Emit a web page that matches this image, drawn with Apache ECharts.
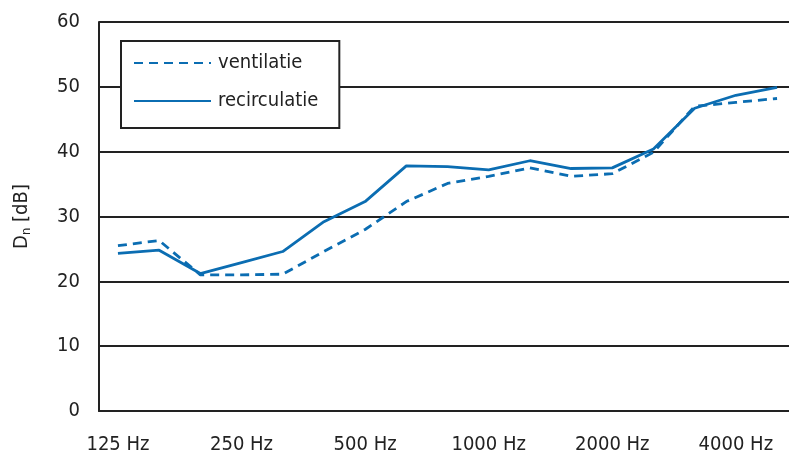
<!DOCTYPE html>
<html>
<head>
<meta charset="utf-8">
<script src="https://cdn.jsdelivr.net/npm/echarts@6/dist/echarts.min.js"></script>
<style>
  html, body { margin: 0; padding: 0; background: #fff; }
  #chart { width: 789px; height: 460px; }
</style>
</head>
<body>
<div id="chart"></div>
<script>
// third-octave bands, 125 Hz .. 5000 Hz
var freqs = ['125', '160', '200', '250', '315', '400', '500', '630', '800',
  '1000', '1250', '1600', '2000', '2500', '3150', '4000', '5000'];
var ventilatie = [25.5, 26.3, 21.0, 21.0, 21.1, 24.6, 28.0, 32.3, 35.1,
  36.2, 37.5, 36.2, 36.6, 39.9, 47.0, 47.6, 48.2];
var recirculatie = [24.3, 24.8, 21.2, 22.9, 24.6, 29.2, 32.3, 37.8, 37.7,
  37.2, 38.6, 37.4, 37.5, 40.4, 46.7, 48.7, 49.9];
var tickFreqs = ['125', '250', '500', '1000', '2000', '4000'];

var font = "'Liberation Sans Narrow', 'DejaVu Sans Condensed', sans-serif";
var blue = '#0b6db2';

function pairs(arr) {
  return arr.map(function (v, i) { return [i, v]; });
}

var myChart = echarts.init(document.getElementById('chart'));
var option = {
  animation: false,
  grid: { left: 99, right: 0, top: 22, bottom: 49 },
  legend: {
    orient: 'vertical',
    left: 121,
    top: 41,
    backgroundColor: '#fff',
    borderColor: '#222',
    borderWidth: 2,
    borderRadius: 0,
    padding: [12, 21, 17, 12],
    itemWidth: 77,
    itemHeight: 20,
    itemGap: 18,
    itemStyle: { opacity: 0 },
    textStyle: { fontFamily: font, fontSize: 20, color: '#222', padding: [0, 0, 0, 2] },
    data: ['ventilatie', 'recirculatie']
  },
  xAxis: {
    type: 'value',
    min: -0.46,
    max: 16.29,
    axisLine: { onZero: false, lineStyle: { color: '#222', width: 2 } },
    axisTick: { show: false },
    splitLine: { show: false },
    axisLabel: {
      customValues: tickFreqs.map(function (f) { return freqs.indexOf(f); }),
      formatter: function (v) { return freqs[Math.round(v)] + ' Hz'; },
      margin: 24,
      fontFamily: font,
      fontSize: 20,
      color: '#222'
    }
  },
  yAxis: {
    type: 'value',
    min: 0,
    max: 60,
    interval: 10,
    name: '{a|D}{sub|n}{a| [dB]}',
    nameLocation: 'middle',
    nameGap: 66,
    nameTextStyle: {
      rich: {
        a: { fontFamily: font, fontSize: 20, color: '#222' },
        sub: { fontFamily: font, fontSize: 13, color: '#222', padding: [10, 0, 0, 0] }
      }
    },
    axisLine: { show: true, onZero: false, lineStyle: { color: '#222', width: 2 } },
    axisTick: { show: false },
    splitLine: { lineStyle: { color: '#222', width: 2 } },
    axisLabel: { margin: 19, fontFamily: font, fontSize: 20, color: '#222' }
  },
  series: [
    {
      name: 'ventilatie',
      type: 'line',
      symbol: 'none',
      data: pairs(ventilatie),
      itemStyle: { color: blue },
      lineStyle: { color: blue, width: 2.8, type: [9, 6] }
    },
    {
      name: 'recirculatie',
      type: 'line',
      symbol: 'none',
      data: pairs(recirculatie),
      itemStyle: { color: blue },
      lineStyle: { color: blue, width: 2.8 }
    }
  ]
};
myChart.setOption(option);
</script>
</body>
</html>
